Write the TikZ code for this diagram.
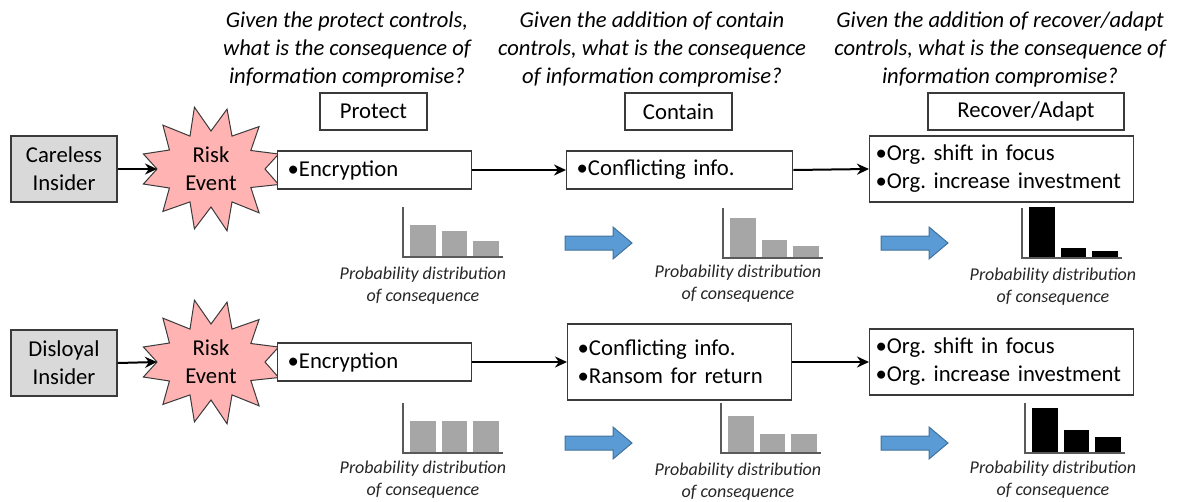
\documentclass[tikz,border=0pt]{standalone}
\usepackage{fontspec}
\setmainfont{Carlito}
\usetikzlibrary{arrows.meta}
\definecolor{starpink}{HTML}{FFB3B3}
\definecolor{insgray}{HTML}{D9D9D9}
\definecolor{bargray}{HTML}{A6A6A6}
\definecolor{axisgray}{HTML}{595959}
\definecolor{arrowblue}{HTML}{5B9BD5}
\definecolor{arrowedge}{HTML}{41719C}
\definecolor{edge}{HTML}{3A3A3A}
\newcommand\burstpath{(0:54 and 40) -- (15:70 and 60) -- (30:46 and 37) -- (45:68 and 62) -- (60:42 and 38) -- (75:62 and 64) -- (90:42 and 38) -- (105:64 and 62) -- (120:42 and 38) -- (135:68 and 60) -- (150:48 and 38) -- (165:70 and 58) -- (180:54 and 40) -- (195:70 and 58) -- (210:48 and 38) -- (225:68 and 62) -- (240:42 and 38) -- (255:64 and 64) -- (270:42 and 38) -- (285:62 and 62) -- (300:42 and 38) -- (315:68 and 60) -- (330:46 and 37) -- (345:70 and 58) -- cycle}
\newcommand\distchart[6]{%
  \fill[#6] (#1+7,#2-1) rectangle ++(25.5,-#3);
  \fill[#6] (#1+38.5,#2-1) rectangle ++(25.5,-#4);
  \fill[#6] (#1+70,#2-1) rectangle ++(25.5,-#5);
  \draw[axisline] (#1,#2-50) -- (#1,#2) -- (#1+100,#2);
}
\newcommand\bluearrow[2]{%
  \draw[blockarrow] (#1,#2-7) -- (#1+48,#2-7) -- (#1+48,#2-16) -- (#1+67,#2) -- (#1+48,#2+16) -- (#1+48,#2+7) -- (#1,#2+7) -- cycle;
}
\tikzset{
  boxtxt/.style={font=\fontsize{22.7}{28}\selectfont\frenchspacing},
  insider/.style={boxtxt, draw=edge, line width=1.3pt, fill=insgray, minimum width=106pt, minimum height=66pt, align=center, inner sep=0pt},
  ctrl/.style={boxtxt, draw=edge, line width=1.3pt, fill=white, align=left, inner xsep=10pt, inner ysep=0pt, anchor=west},
  titlebox/.style={boxtxt, draw=edge, line width=1.3pt, minimum height=37pt, align=center, inner sep=0pt},
  question/.style={font=\fontsize{22.6}{28}\selectfont\itshape, align=center, anchor=base, inner sep=0pt},
  plabel/.style={font=\fontsize{18}{22}\selectfont\itshape, align=center, anchor=base, inner sep=0pt, text=black!85},
  burst/.style={draw=edge, line width=1pt, fill=starpink},
  bursttxt/.style={boxtxt, align=center, inner sep=0pt},
  conn/.style={line width=2pt, -{Stealth[length=12pt,width=11pt]}},
  axisline/.style={draw=axisgray, line width=1.5pt},
  blockarrow/.style={fill=arrowblue, draw=arrowedge, line width=1pt},
}
\begin{document}
\begin{tikzpicture}[x=1pt,y=-1pt]
\useasboundingbox (0,0) rectangle (1180,501);

% questions (anchor base = last line)
\node[question] (q1) at (347,83) {Given the protect controls,\\what is the consequence of\\information compromise?};
\node[question] (q2) at (652,83) {Given the addition of contain\\controls, what is the consequence\\of information compromise?};
\node[question] (q3) at (1000,83) {Given the addition of recover/adapt\\controls, what is the consequence of\\information compromise?};

% title boxes
\node[titlebox, minimum width=107pt] (t1) at (373.5,111.5) {Protect};
\node[titlebox, minimum width=107pt] (t2) at (678.5,111.5) {Contain};
\node[titlebox, minimum width=196pt] (t3) at (1026,111.5) {Recover/Adapt};

% row 1
\node[insider] (c1) at (64,169) {Careless\\Insider};
\draw[burst, shift={(211,169)}] \burstpath;
\coordinate (n1) at (157,169);
\node[bursttxt] (r1) at (211,169) {Risk\\Event};
\node[ctrl, text width=174pt, minimum height=38pt] (e1) at (277,170) {•Encryption};
\node[ctrl, text width=206pt, minimum height=38pt] (ct1) at (566,170) {•Conflicting info.};
\node[ctrl, inner xsep=6pt, text width=252pt, minimum height=66pt] (rc1) at (869,169) {•Org. shift in focus\\•Org. increase investment};
\draw[conn] (c1.east) -- (n1);
\draw[conn] (e1.east) -- (ct1.west);
\draw[conn] (ct1.east) -- (rc1.west);

% row 2
\node[insider] (c2) at (64,363) {Disloyal\\Insider};
\draw[burst, shift={(211,362)}] \burstpath;
\coordinate (n2) at (157,362);
\node[bursttxt] (r2) at (211,362) {Risk\\Event};
\node[ctrl, text width=174pt, minimum height=38pt] (e2) at (277,362) {•Encryption};
\node[ctrl, text width=204pt, minimum height=76pt] (ct2) at (567,362) {•Conflicting info.\\•Ransom for return};
\node[ctrl, inner xsep=6pt, text width=252pt, minimum height=66pt] (rc2) at (869,362) {•Org. shift in focus\\•Org. increase investment};
\draw[conn] (c2.east) -- (n2);
\draw[conn] (e2.east) -- (ct2.west);
\draw[conn] (ct2.east) -- (rc2.west);

% charts row 1
\distchart{403}{257}{31}{25}{15}{bargray}
\distchart{723}{258}{39}{17}{11}{bargray}
\distchart{1022}{258}{50}{9}{6}{black}
\bluearrow{565}{243}
\bluearrow{881}{243}
\node[plabel] (p1) at (423,301) {Probability distribution\\of consequence};
\node[plabel] (p2) at (738,299) {Probability distribution\\of consequence};
\node[plabel] (p3) at (1053,302) {Probability distribution\\of consequence};

% charts row 2
\distchart{403}{453}{31}{31}{31}{bargray}
\distchart{721}{453}{36}{18}{18}{bargray}
\distchart{1025}{453}{44}{22}{15}{black}
\bluearrow{565}{443}
\bluearrow{881}{443}
\node[plabel] (p4) at (423,495) {Probability distribution\\of consequence};
\node[plabel] (p5) at (738,497) {Probability distribution\\of consequence};
\node[plabel] (p6) at (1053,495) {Probability distribution\\of consequence};
\end{tikzpicture}
\end{document}
